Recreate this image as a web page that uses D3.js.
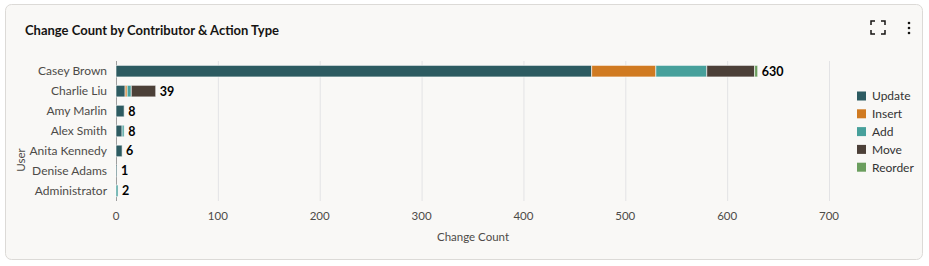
<!DOCTYPE html>
<html>
<head>
<meta charset="utf-8">
<script src="https://cdn.jsdelivr.net/npm/d3@7"></script>
<style>
  body { margin: 0; background: #fff; font-family: Lato, "Noto Sans", sans-serif; }
</style>
</head>
<body>
<div id="chart"></div>
<script>
// data
var users = ["Casey Brown", "Charlie Liu", "Amy Marlin", "Alex Smith", "Anita Kennedy", "Denise Adams", "Administrator"];
var actions = ["Update", "Insert", "Add", "Move", "Reorder"];
var updateCounts  = [467, 9, 8, 6, 6, 1, 0];
var insertCounts  = [63, 2, 0, 0, 0, 0, 0];
var addCounts     = [50, 4, 0, 2, 0, 0, 2];
var moveCounts    = [47, 24, 0, 0, 0, 0, 0];
var reorderCounts = [3, 0, 0, 0, 0, 0, 0];
var xTicks = [0, 100, 200, 300, 400, 500, 600, 700];

var colours = ["#2d5b61", "#d07a21", "#47a09b", "#4c4038", "#6b9e5e"];

var W = 929, H = 266;
var svg = d3.select("#chart").append("svg")
    .attr("width", W)
    .attr("height", H);

// card
svg.append("rect")
    .attr("x", 5.5).attr("y", 4.5)
    .attr("width", 917).attr("height", 255)
    .attr("rx", 6)
    .attr("fill", "#f9f8f6")
    .attr("stroke", "#dcdad7");

svg.append("text")
    .attr("x", 25).attr("y", 35)
    .attr("font-size", "13px")
    .attr("font-weight", 700)
    .attr("fill", "#161513")
    .text("Change Count by Contributor & Action Type");

// header icons
var icon = svg.append("g").attr("fill", "none").attr("stroke", "#161513").attr("stroke-width", 1.5);
icon.append("path").attr("d", "M871 25 v-4 h4 M881 21 h4 v4 M885 30 v4 h-4 M875 34 h-4 v-4");
[23, 28, 33].forEach(function(y) {
    svg.append("circle").attr("cx", 909).attr("cy", y).attr("r", 1.3).attr("fill", "#161513");
});

var table = users.map(function(u, i) {
    return { user: u, Update: updateCounts[i], Insert: insertCounts[i], Add: addCounts[i],
             Move: moveCounts[i], Reorder: reorderCounts[i] };
});

var x = d3.scaleLinear().domain([0, 700]).range([116, 829]);
var y = d3.scaleBand().domain(users).range([61, 201]).paddingInner(0.42).paddingOuter(0.22);

// grid
svg.append("g").selectAll("line")
    .data(xTicks.slice(1))
    .enter().append("line")
    .attr("x1", function(d) { return x(d) + 0.5; })
    .attr("x2", function(d) { return x(d) + 0.5; })
    .attr("y1", 61).attr("y2", 201)
    .attr("stroke", "#e3e3e5");

svg.append("line")
    .attr("x1", x(0) + 0.5).attr("x2", x(0) + 0.5)
    .attr("y1", 61).attr("y2", 201)
    .attr("stroke", "#9e9e9e");

// stacked bars
var series = d3.stack().keys(actions)(table);
svg.append("g").selectAll("g")
    .data(series)
    .enter().append("g")
    .attr("fill", function(d, i) { return colours[i]; })
    .selectAll("rect")
    .data(function(d) { return d.filter(function(p) { return p[1] > p[0]; }); })
    .enter().append("rect")
    .attr("x", function(d) { return x(d[0]); })
    .attr("width", function(d) { return x(d[1]) - x(d[0]); })
    .attr("y", function(d) { return y(d.data.user); })
    .attr("height", y.bandwidth())
    .attr("stroke", "#ffffff")
    .attr("stroke-opacity", 0.6)
    .attr("stroke-width", 1);

// totals
svg.append("g").selectAll("text")
    .data(table)
    .enter().append("text")
    .attr("x", function(d) { return x(d3.sum(actions, function(a) { return d[a]; })) + 4; })
    .attr("y", function(d) { return y(d.user) + y.bandwidth() / 2; })
    .attr("dy", "0.36em")
    .attr("font-size", "12.5px")
    .attr("font-weight", 700)
    .attr("fill", "#000")
    .text(function(d) { return d3.sum(actions, function(a) { return d[a]; }); });

// y labels
svg.append("g").selectAll("text")
    .data(users)
    .enter().append("text")
    .attr("x", 107)
    .attr("y", function(d) { return y(d) + y.bandwidth() / 2; })
    .attr("dy", "0.36em")
    .attr("text-anchor", "end")
    .attr("font-size", "12px")
    .attr("fill", "#4d4b48")
    .text(function(d) { return d; });

// x tick labels
svg.append("g").selectAll("text")
    .data(xTicks)
    .enter().append("text")
    .attr("x", function(d) { return x(d); })
    .attr("y", 220)
    .attr("text-anchor", "middle")
    .attr("font-size", "11.5px")
    .attr("fill", "#4d4b48")
    .text(function(d) { return d; });

svg.append("text")
    .attr("x", 473).attr("y", 241)
    .attr("text-anchor", "middle")
    .attr("font-size", "11.5px")
    .attr("fill", "#4d4b48")
    .text("Change Count");

svg.append("text")
    .attr("transform", "translate(25,160) rotate(-90)")
    .attr("text-anchor", "middle")
    .attr("font-size", "11.5px")
    .attr("fill", "#4d4b48")
    .text("User");

// legend
var legend = svg.append("g").selectAll("g")
    .data(actions)
    .enter().append("g")
    .attr("transform", function(d, i) { return "translate(857," + (96 + i * 17.8) + ")"; });
legend.append("rect")
    .attr("x", 0).attr("y", -4.5)
    .attr("width", 9).attr("height", 9)
    .attr("fill", function(d, i) { return colours[i]; });
legend.append("text")
    .attr("x", 15).attr("dy", "0.36em")
    .attr("font-size", "12px")
    .attr("fill", "#333")
    .text(function(d) { return d; });
</script>
</body>
</html>
